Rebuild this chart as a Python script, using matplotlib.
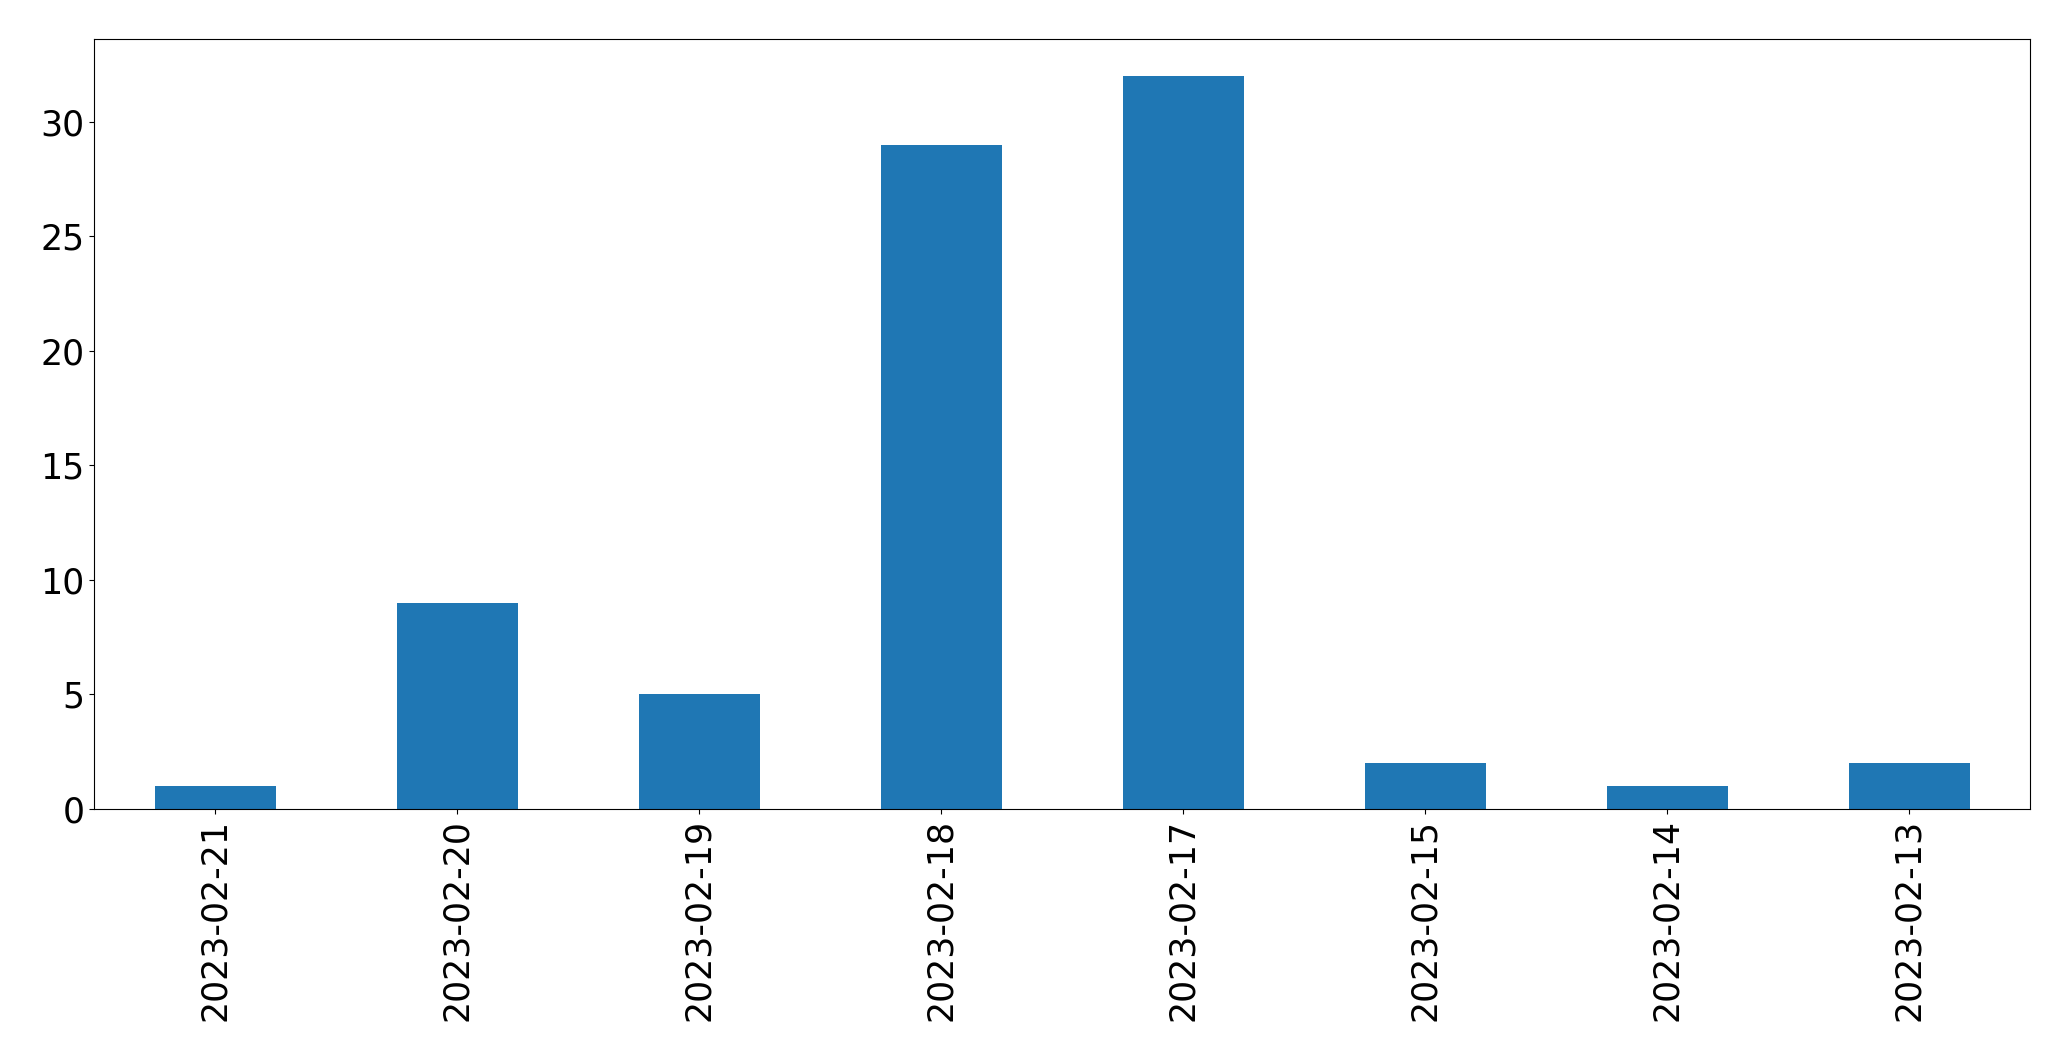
import matplotlib
matplotlib.use("Agg")
import matplotlib.pyplot as plt
import pandas as pd

# counts per day, newest first
dates = ["2023-02-21", "2023-02-20", "2023-02-19", "2023-02-18",
         "2023-02-17", "2023-02-15", "2023-02-14", "2023-02-13"]
counts = [1, 9, 5, 29, 32, 2, 1, 2]

s = pd.Series(counts, index=dates)

fig = plt.figure(figsize=(20.71, 10.61), dpi=100)
ax = fig.add_axes([0.0455, 0.2375, 0.9348, 0.7255])
s.plot.bar(ax=ax, color="#1f77b4", fontsize=25)

plt.savefig("out.png", dpi=100)
